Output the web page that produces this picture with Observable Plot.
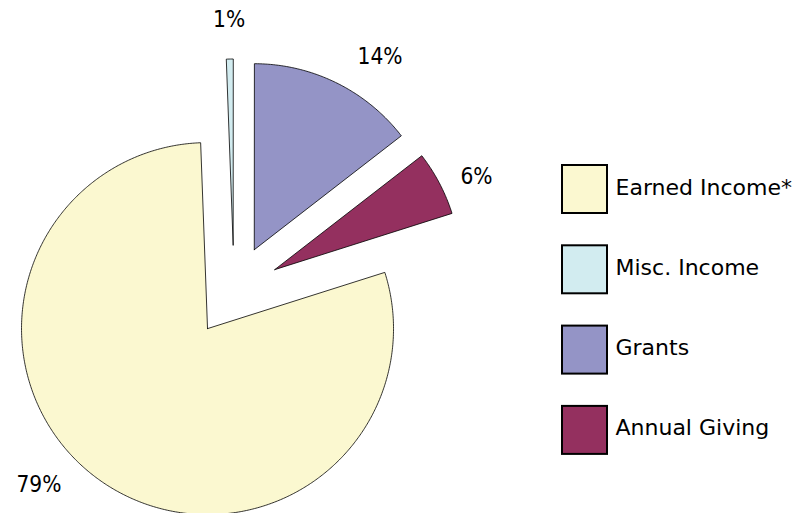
<!DOCTYPE html>
<html>
<head>
<meta charset="utf-8">
<script src="https://cdn.jsdelivr.net/npm/d3@7"></script>
<script src="https://cdn.jsdelivr.net/npm/@observablehq/plot@0.6"></script>
<style>
  html, body { margin: 0; padding: 0; background: #ffffff; }
  #chart { width: 811px; height: 513px; }
</style>
</head>
<body>
<div id="chart"></div>
<script>
// ---- data ----
const categories = ["Earned Income*", "Misc. Income", "Grants", "Annual Giving"];
const shares = [79.3, 0.6, 14.5, 5.6];
const labels = ["79%", "1%", "14%", "6%"];

// ---- styles / layout ----
const palette = ["#FBF8D0", "#D2ECF0", "#9494C6", "#94305F"];
const W = 811, H = 513;
const cx = 233.5, cy = 290.5, R = 186, explode = 46;
const startDeg = 72.4;
const labelNudgeDeg = [12, 0, 7, 3];
const labelDist = [230, 225, 230, 222];

const rad = Math.PI / 180;
const rows = categories.map((name, i) => ({name, value: shares[i], label: labels[i], i}));
const arcs = d3.pie().sort(null).value(d => d.value)
  .startAngle(startDeg * rad).endAngle(startDeg * rad + 2 * Math.PI)(rows);

const poly = [];
const labelRows = [];
for (const a of arcs) {
  const mid = (a.startAngle + a.endAngle) / 2;
  const ax = cx + explode * Math.sin(mid), ay = cy - explode * Math.cos(mid);
  const pts = [[ax, ay]];
  const n = Math.max(2, Math.ceil((a.endAngle - a.startAngle) / (0.5 * rad)));
  for (let k = 0; k <= n; k++) {
    const t = a.startAngle + (a.endAngle - a.startAngle) * k / n;
    pts.push([ax + R * Math.sin(t), ay - R * Math.cos(t)]);
  }
  pts.push([ax, ay]);
  for (const [x, y] of pts) poly.push({name: a.data.name, x, y});
  const la = mid + labelNudgeDeg[a.data.i] * rad;
  const d = labelDist[a.data.i];
  labelRows.push({x: ax + d * Math.sin(la), y: ay - d * Math.cos(la), text: a.data.label});
}

// legend layout
const legX = 562, legW = 45, legH = 48, legTop = 165, legStep = 80.3, legTextX = 615;
const legendRows = categories.map((name, i) => ({
  name,
  x1: legX, x2: legX + legW,
  y1: legTop + i * legStep, y2: legTop + i * legStep + legH,
  ty: legTop + i * legStep + legH / 2 - 2
}));

const chart = Plot.plot({
  width: W, height: H,
  margin: 0,
  x: {type: "linear", domain: [0, W], range: [0, W], axis: null},
  y: {type: "linear", domain: [0, H], range: [0, H], axis: null},
  color: {domain: categories, range: palette},
  style: {fontFamily: "DejaVu Sans", background: "white"},
  marks: [
    Plot.line(poly, {x: "x", y: "y", z: "name", fill: "name", stroke: "black", strokeWidth: 0.8, curve: "linear"}),
    Plot.text(labelRows, {x: "x", y: "y", text: "text", fontSize: 22.5, fontFamily: "DejaVu Sans Condensed", fill: "black"}),
    Plot.rect(legendRows, {x1: "x1", x2: "x2", y1: "y1", y2: "y2", fill: "name", stroke: "black", strokeWidth: 2}),
    Plot.text(legendRows, {x: legTextX, y: "ty", text: "name", textAnchor: "start", fontSize: 22, fontFamily: "DejaVu Sans", fill: "black"})
  ]
});
document.getElementById("chart").appendChild(chart);
</script>
</body>
</html>
